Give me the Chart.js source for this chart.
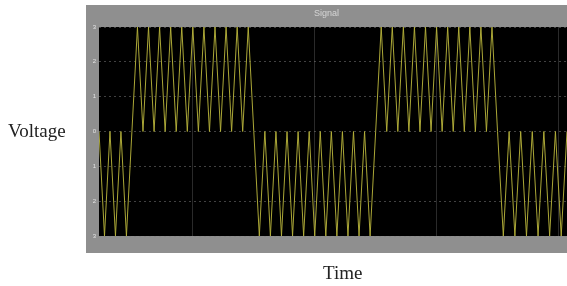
<!DOCTYPE html>
<html>
<head>
<meta charset="utf-8">
<script src="https://cdn.jsdelivr.net/npm/chart.js@4"></script>
<style>
    body { margin: 0; background: #fff; }
    #wrap { position: relative; width: 567px; height: 286px; }
    #sigChart { position: absolute; left: 0; top: 0; }
    .lbl { position: absolute; font-family: "Liberation Serif", serif; font-size: 19px; line-height: 19px; color: #222; }
</style>
</head>
<body>
<div id="wrap">
    <canvas id="sigChart" width="567" height="286"></canvas>
    <div class="lbl" style="left:8px; top:121px;">Voltage</div>
    <div class="lbl" style="left:323px; top:263px;">Time</div>
</div>
<script>
// bit periods (time in bit units, 0 = left edge of plot)
const segStart = [0, 0.27, 1.27, 2.27, 3.27];
const segEnd = [0.27, 1.27, 2.27, 3.27, 3.84];
const segBit = [0, 1, 0, 1, 0];
const cyclesPerBit = 11;
const bandPeak = { 1: 3, 0: -3 };   // 1 -> swings 0..3, 0 -> swings 0..-3
const gridTimes = [0.77, 1.77, 2.77, 3.77];
const yTicks = [-3, -2, -1, 0, 1, 2, 3];


function buildTrace() {
    const pts = [];
    segStart.forEach((a, i) => {
        const b = segEnd[i];
        const peak = bandPeak[segBit[i]];
        // whole number of cycles in each piece so it starts and ends on 0
        let n = Math.max(2, Math.round((b - a) * cyclesPerBit) * 2);
        const step = (b - a) / n;
        for (let k = 0; k < n; k++) {
            pts.push({ x: a + k * step, y: k % 2 === 0 ? 0 : peak });
        }
    });
    pts.push({ x: segEnd[segEnd.length - 1], y: 0 });
    return pts;
}


const framePlugin = {
    id: 'frame',
    beforeDraw(chart) {
        const ctx = chart.ctx;
        const a = chart.chartArea;
        ctx.save();
        ctx.fillStyle = '#8f8f8f';
        ctx.fillRect(86, 5, 567 - 86, 253 - 5);
        ctx.fillStyle = '#000';
        ctx.fillRect(a.left, a.top, a.right - a.left, a.bottom - a.top);
        ctx.restore();
    }
};


const sigChart = new Chart(document.getElementById('sigChart'), {
    type: 'line',
    data: {
        datasets: [{
            label: 'Signal',
            data: buildTrace(),
            borderColor: 'rgba(180, 176, 58, 0.95)',
            borderWidth: 1,
            pointRadius: 0,
            tension: 0,
            fill: false
        }]
    },
    options: {
        responsive: false,
        animation: false,
        layout: { padding: { left: 86, right: 0, top: 0, bottom: 50 } },
        plugins: {
            legend: { display: false },
            tooltip: { enabled: false },
            title: {
                display: true,
                text: 'Signal',
                color: 'rgba(235, 235, 235, 0.75)',
                font: { family: 'Arial', size: 9, weight: 'normal' },
                padding: { top: 8, bottom: 8.2 }
            }
        },
        scales: {
            x: {
                type: 'linear',
                min: 0,
                max: 3.84,
                border: { display: false },
                ticks: { display: false },
                grid: { color: 'rgba(120, 120, 120, 0.35)', drawTicks: false, lineWidth: 1 },
                afterBuildTicks: scale => { scale.ticks = gridTimes.map(v => ({ value: v })); },
                afterFit: scale => { scale.height = 0; }
            },
            y: {
                min: -3,
                max: 3,
                border: { display: false, dash: [2, 3] },
                ticks: {
                    stepSize: 1,
                    color: '#e4e4e4',
                    padding: 3,
                    font: { family: 'Arial', size: 6 },
                    callback: v => Math.abs(v)
                },
                grid: { color: 'rgba(130, 130, 130, 0.5)', drawTicks: false },
                afterBuildTicks: scale => { scale.ticks = yTicks.map(v => ({ value: v })); },
                afterFit: scale => { scale.width = 13; }
            }
        }
    },
    plugins: [framePlugin]
});
</script>
</body>
</html>
